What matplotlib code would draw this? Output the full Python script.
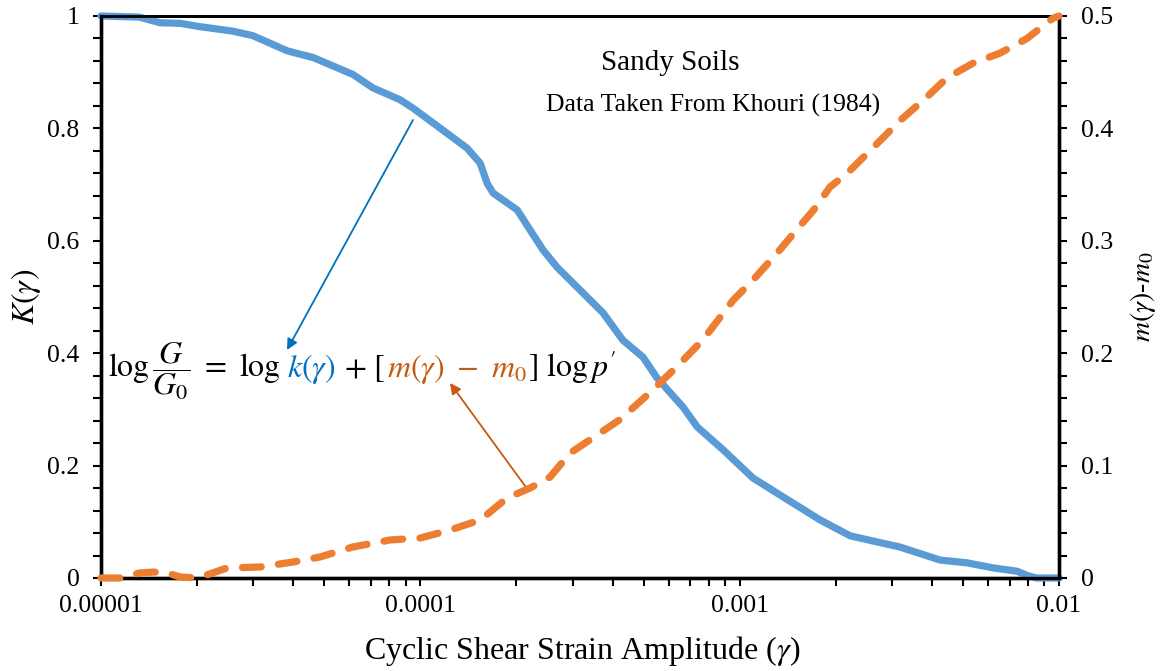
import matplotlib
matplotlib.use('Agg')
import matplotlib.pyplot as plt
from matplotlib.ticker import FixedLocator, FixedFormatter, MultipleLocator, LogLocator, NullFormatter
from matplotlib.transforms import IdentityTransform

plt.rcParams['font.family'] = ['Liberation Serif', 'DejaVu Serif']
plt.rcParams['mathtext.fontset'] = 'stix'

# ---- data ----
gamma_k = [1.0e-5, 1.32e-5, 1.53e-5, 1.77e-5, 2.04e-5, 2.59e-5, 2.99e-5, 3.83e-5, 4.62e-5, 6.15e-5,
           7.11e-5, 8.64e-5, 9.49e-5, 1.15e-4, 1.40e-4, 1.54e-4, 1.62e-4, 1.69e-4, 2.01e-4, 2.42e-4,
           2.68e-4, 3.73e-4, 4.31e-4, 4.98e-4, 5.51e-4, 6.65e-4, 7.36e-4, 8.88e-4, 1.10e-3, 1.37e-3,
           1.79e-3, 2.22e-3, 3.18e-3, 4.24e-3, 5.15e-3, 6.22e-3, 7.39e-3, 8.0e-3, 8.5e-3, 1.0e-2]
k_vals = [1.0, 0.998, 0.988, 0.987, 0.981, 0.973, 0.965, 0.938, 0.926, 0.896,
          0.872, 0.851, 0.836, 0.801, 0.765, 0.738, 0.702, 0.685, 0.655, 0.584,
          0.553, 0.472, 0.423, 0.393, 0.356, 0.304, 0.269, 0.228, 0.178, 0.144,
          0.103, 0.075, 0.055, 0.032, 0.027, 0.018, 0.012, 0.004, 0.0, 0.0]

gamma_m = [1.0e-5, 1.15e-5, 1.32e-5, 1.46e-5, 1.61e-5, 1.77e-5, 2.0e-5, 2.19e-5, 2.48e-5, 3.15e-5,
           3.99e-5, 4.85e-5, 6.15e-5, 8.03e-5, 1.0e-4, 1.24e-4, 1.54e-4, 1.87e-4, 2.21e-4, 2.55e-4,
           2.94e-4, 3.40e-4, 4.22e-4, 5.24e-4, 6.36e-4, 7.68e-4, 9.53e-4, 1.10e-3, 1.31e-3, 1.51e-3,
           1.70e-3, 1.92e-3, 2.17e-3, 2.62e-3, 3.18e-3, 3.86e-3, 4.46e-3, 5.38e-3, 6.54e-3, 7.94e-3,
           9.57e-3, 1.0e-2]
m_vals = [0.0, 0.0, 0.0045, 0.0053, 0.0045, 0.0009, 0.0, 0.0036, 0.0089, 0.0098,
          0.0142, 0.0187, 0.0276, 0.0338, 0.0356, 0.0427, 0.0516, 0.0712, 0.0801, 0.0899,
          0.111, 0.123, 0.141, 0.165, 0.188, 0.212, 0.247, 0.265, 0.289, 0.310,
          0.327, 0.348, 0.360, 0.383, 0.407, 0.428, 0.445, 0.458, 0.467, 0.480,
          0.498, 0.5]

x_ticks = [1e-5, 1e-4, 1e-3, 1e-2]
x_tick_labels = ['0.00001', '0.0001', '0.001', '0.01']
k_ticks = [0, 0.2, 0.4, 0.6, 0.8, 1.0]
k_tick_labels = ['0', '0.2', '0.4', '0.6', '0.8', '1']
m_ticks = [0, 0.1, 0.2, 0.3, 0.4, 0.5]
m_tick_labels = ['0', '0.1', '0.2', '0.3', '0.4', '0.5']

BLUE = '#5B9BD5'
ORANGE = '#ED7D31'
BLUE_TXT = '#0070C0'
ORANGE_TXT = '#C55A11'

W, H = 1166, 671
fig = plt.figure(figsize=(W / 100, H / 100), dpi=100)
L, R, T, B = 101, 1059, 16, 578
ax = fig.add_axes([L / W, 1 - B / H, (R - L) / W, (B - T) / H])
ax2 = ax.twinx()

ax.set_xscale('log')
ax.set_xlim(1e-5, 1e-2)
ax.set_ylim(0, 1)
ax2.set_ylim(0, 0.5)

ax.plot(gamma_k, k_vals, color=BLUE, lw=5.2, solid_capstyle='round',
        solid_joinstyle='round', clip_on=False, zorder=3)
ax2.plot(gamma_m, m_vals, color=ORANGE, lw=5.2, dashes=(2.6, 2.4),
         dash_capstyle='round', dash_joinstyle='round', clip_on=False, zorder=3)

# ticks
ax.xaxis.set_major_locator(FixedLocator(x_ticks))
ax.xaxis.set_major_formatter(FixedFormatter(x_tick_labels))
ax.xaxis.set_minor_locator(LogLocator(base=10, subs=range(2, 10)))
ax.xaxis.set_minor_formatter(NullFormatter())
ax.yaxis.set_major_locator(FixedLocator(k_ticks))
ax.yaxis.set_major_formatter(FixedFormatter(k_tick_labels))
ax.yaxis.set_minor_locator(MultipleLocator(0.04))
ax2.yaxis.set_major_locator(FixedLocator(m_ticks))
ax2.yaxis.set_major_formatter(FixedFormatter(m_tick_labels))
ax2.yaxis.set_minor_locator(MultipleLocator(0.02))

for a in (ax, ax2):
    a.tick_params(which='major', direction='out', length=5.5, width=1.5, labelsize=18.5, color='black')
    a.tick_params(which='minor', direction='out', length=5.5, width=1.5, color='black')
ax.tick_params(axis='y', which='both', right=False)
ax.tick_params(axis='y', pad=10)
ax.tick_params(axis='x', pad=7)
ax2.tick_params(axis='y', pad=10)

for a in (ax, ax2):
    for s in ('left', 'right', 'bottom'):
        a.spines[s].set_linewidth(2.4)
        a.spines[s].set_color('black')
    a.spines['top'].set_linewidth(2.0)
    a.spines['top'].set_color('black')

# labels
ax.set_xlabel(r'Cyclic Shear Strain Amplitude ($\gamma$)', fontsize=23)
ax.xaxis.set_label_coords(0.502, -0.1)
ax.set_ylabel(r'$K(\gamma)$', fontsize=23)
ax.yaxis.set_label_coords(-0.061, 0.5)
ax2.set_ylabel(r'$m(\gamma)$-$m_0$', fontsize=20)
ax2.yaxis.set_label_coords(1.072, 0.5)

# annotation texts
ax.text((670 - L) / (R - L), (B - 63) / (B - T), 'Sandy Soils', transform=ax.transAxes,
        ha='center', va='center', fontsize=21)
ax.text((713 - L) / (R - L), (B - 105) / (B - T), 'Data Taken From Khouri (1984)',
        transform=ax.transAxes, ha='center', va='center', fontsize=18.5)

# equation composed of coloured pieces
pieces = [
    (r'$\log\dfrac{G}{G_0}\ =\ \log$', 'black', 6),
    (r'$k(\gamma)$', BLUE_TXT, 8),
    (r'$+\ [$', 'black', 2),
    (r'$m(\gamma)\ -\ m_0$', ORANGE_TXT, 1),
    (r'$]\ \log p^{\prime}$', 'black', 0),
]
fig.canvas.draw()
renderer = fig.canvas.get_renderer()
xpos = 108
ybase = H - 377
for txt, col, gap in pieces:
    t = fig.text(xpos, ybase, txt, color=col, fontsize=23, ha='left', va='baseline',
                 transform=IdentityTransform())
    bb = t.get_window_extent(renderer)
    xpos += bb.width + gap

def axfrac(px, py):
    return ((px - L) / (R - L), (B - py) / (B - T))

ax.annotate('', xy=axfrac(287, 350), xytext=axfrac(413, 120),
            xycoords='axes fraction', textcoords='axes fraction',
            arrowprops=dict(arrowstyle='-|>', color=BLUE_TXT, lw=1.3, mutation_scale=16,
                            shrinkA=0, shrinkB=0))
ax.annotate('', xy=axfrac(450, 383), xytext=axfrac(528, 490),
            xycoords='axes fraction', textcoords='axes fraction',
            arrowprops=dict(arrowstyle='-|>', color=ORANGE_TXT, lw=1.3, mutation_scale=16,
                            shrinkA=0, shrinkB=0))

fig.savefig('out.png', dpi=100)
